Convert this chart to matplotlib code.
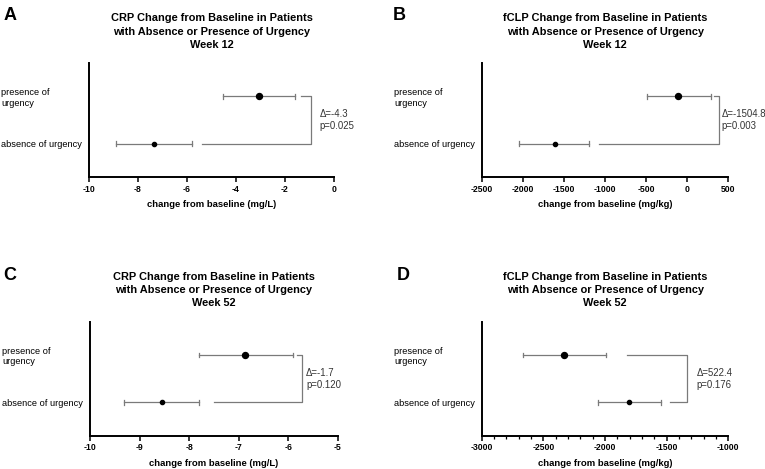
import matplotlib.pyplot as plt
from matplotlib.ticker import MultipleLocator

plt.rcParams['font.family'] = ['Liberation Sans', 'DejaVu Sans']
plt.rcParams['axes.unicode_minus'] = False

groups = ['absence of urgency', 'presence of\nurgency']

# panel A: CRP week 12
crp12_mean = [-7.35, -3.05]
crp12_lo = [-8.9, -4.55]
crp12_hi = [-5.8, -1.6]
# panel B: fCLP week 12
fclp12_mean = [-1610, -110]
fclp12_lo = [-2043, -488]
fclp12_hi = [-1197, 283]
# panel C: CRP week 52
crp52_mean = [-8.55, -6.87]
crp52_lo = [-9.31, -7.80]
crp52_hi = [-7.79, -5.91]
# panel D: fCLP week 52
fclp52_mean = [-1805, -2330]
fclp52_lo = [-2060, -2663]
fclp52_hi = [-1548, -1995]

deltas = ['\u0394=-4.3\np=0.025', '\u0394=-1504.8\np=0.003', '\u0394=-1.7\np=0.120', '\u0394=522.4\np=0.176']

panels = [
    dict(letter='A', marker='CRP', week='12', mean=crp12_mean, lo=crp12_lo, hi=crp12_hi,
         xlim=(-10, 0), step=2, minor=None, unit='mg/L', delta=deltas[0],
         br=(-5.37, -1.36, -0.92), tx=-0.6, pos=[0.1163, 0.6226, 0.3203, 0.2431]),
    dict(letter='B', marker='fCLP', week='12', mean=fclp12_mean, lo=fclp12_lo, hi=fclp12_hi,
         xlim=(-2500, 500), step=500, minor=None, unit='mg/kg', delta=deltas[1],
         br=(-1073, 323, 384), tx=420, pos=[0.6297, 0.6226, 0.3224, 0.2431]),
    dict(letter='C', marker='CRP', week='52', mean=crp52_mean, lo=crp52_lo, hi=crp52_hi,
         xlim=(-10, -5), step=1, minor=None, unit='mg/L', delta=deltas[2],
         br=(-7.49, -5.83, -5.73), tx=-5.64, pos=[0.1176, 0.0710, 0.3238, 0.2430]),
    dict(letter='D', marker='fCLP', week='52', mean=fclp52_mean, lo=fclp52_lo, hi=fclp52_hi,
         xlim=(-3000, -1000), step=500, minor=100, unit='mg/kg', delta=deltas[3],
         br=(-1473, -1819, -1333), tx=-1260, pos=[0.6297, 0.0710, 0.3224, 0.2430]),
]

fig = plt.figure(figsize=(7.65, 4.69), dpi=100)
ycat = [1, 2]
grey = '#7a7a7a'

for p in panels:
    ax = fig.add_axes(p['pos'])
    for i in range(2):
        ax.plot([p['lo'][i], p['hi'][i]], [ycat[i], ycat[i]], color=grey, lw=0.9)
        for e in (p['lo'][i], p['hi'][i]):
            ax.plot([e, e], [ycat[i] - 0.05, ycat[i] + 0.05], color=grey, lw=0.9)
        ax.plot(p['mean'][i], ycat[i], 'o', color='black', ms=3.0 if i == 0 else 4.3, zorder=3)
    # bracket
    b0, b1, bx = p['br']
    ax.plot([b0, bx, bx, b1], [1, 1, 2, 2], color=grey, lw=0.9, clip_on=False)
    ax.text(p['tx'], 1.5, p['delta'], fontsize=6.9, color='#333333', va='center', ha='left',
            linespacing=1.25)

    ax.set_xlim(*p['xlim'])
    ax.set_ylim(0.3, 2.7)
    ax.xaxis.set_major_locator(MultipleLocator(p['step']))
    if p['minor']:
        ax.xaxis.set_minor_locator(MultipleLocator(p['minor']))
        ax.tick_params(axis='x', which='minor', length=2.5, width=0.9)
    ax.set_yticks(ycat)
    ax.set_yticklabels(groups, fontsize=6.7, ha='left')
    ax.tick_params(axis='y', length=0, pad=63)
    ax.tick_params(axis='x', which='major', length=3.5, width=1.1, labelsize=6.2, pad=2)
    for lab in ax.get_xticklabels():
        lab.set_fontweight('bold')
    for s in ['top', 'right']:
        ax.spines[s].set_visible(False)
    for s in ['left', 'bottom']:
        ax.spines[s].set_linewidth(1.4)
    ax.set_xlabel('change from baseline (%s)' % p['unit'], fontsize=6.8, fontweight='bold', labelpad=4.5)
    ax.set_title('%s Change from Baseline in Patients\nwith Absence or Presence of Urgency\nWeek %s'
                 % (p['marker'], p['week']), fontsize=7.9, fontweight='bold', pad=11,
                 linespacing=1.4)

fig.text(0.004, 0.985, 'A', fontsize=13, fontweight='bold', va='top')
fig.text(0.513, 0.985, 'B', fontsize=13, fontweight='bold', va='top')
fig.text(0.004, 0.43, 'C', fontsize=13, fontweight='bold', va='top')
fig.text(0.518, 0.43, 'D', fontsize=13, fontweight='bold', va='top')

fig.savefig('out.png', dpi=100)
